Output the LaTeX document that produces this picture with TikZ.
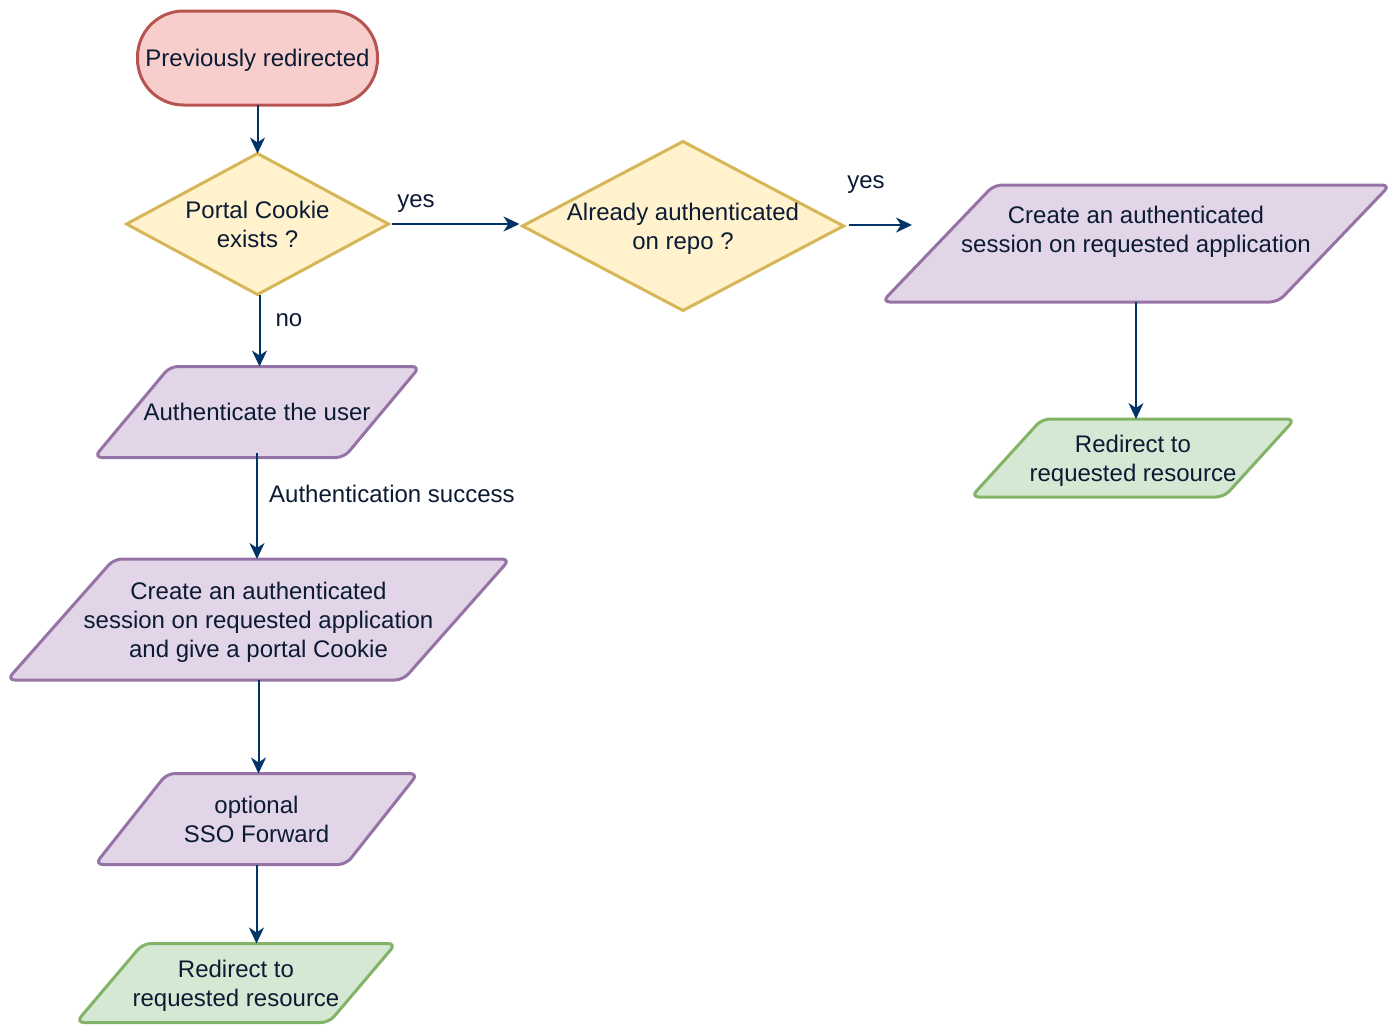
\documentclass[tikz,border=0pt]{standalone}
\usepackage{fontspec}
\setmainfont{Liberation Sans}
\usetikzlibrary{arrows.meta,backgrounds}

\definecolor{inkblue}{HTML}{0B1B33}
\definecolor{edgeblue}{HTML}{003366}
\definecolor{redfill}{HTML}{F8CECC}
\definecolor{redline}{HTML}{B85450}
\definecolor{yellowfill}{HTML}{FFF2CC}
\definecolor{yellowline}{HTML}{D6B656}
\definecolor{purplefill}{HTML}{E1D5E7}
\definecolor{purpleline}{HTML}{9673A6}
\definecolor{greenfill}{HTML}{D5E8D4}
\definecolor{greenline}{HTML}{82B366}

\tikzset{
  % invisible frame that carries the text and the anchors of each block
  frame/.style 2 args={draw=none, inner sep=0pt, outer sep=0pt,
    minimum width=#1, minimum height=#2, align=center, text=inkblue,
    text depth=0pt, font=\fontsize{24}{29}\selectfont},
  startshape/.style={fill=redfill, draw=redline, line width=3pt},
  decision/.style={fill=yellowfill, draw=yellowline, line width=3pt, line join=miter},
  process/.style={fill=purplefill, draw=purpleline, line width=3pt, rounded corners=8pt},
  finish/.style={fill=greenfill, draw=greenline, line width=3pt, rounded corners=8pt},
  flow/.style={draw=edgeblue, line width=2pt,
    -{Stealth[length=16pt, width=15pt, inset=5pt]}},
  edgelabel/.style={text=inkblue, inner sep=0pt, text depth=0pt,
    font=\fontsize{24}{29}\selectfont},
}

% parallelogram drawn along the frame of a node, top edge shifted right by #2
\newcommand{\slanted}[3]{%
  \path[#3] ([xshift=#2]#1.north west) -- (#1.north east)
    -- ([xshift=-#2]#1.south east) -- (#1.south west) -- cycle;}

\begin{document}
\begin{tikzpicture}[x=1pt, y=-1pt]
  \useasboundingbox (0,0) rectangle (1400,1034);

  % blocks
  \node[frame={240}{94}]  (start)   at (257.5,58)  {Previously redirected};
  \node[frame={262}{141}] (cookie)  at (257.5,224) {Portal Cookie\\exists ?};
  \node[frame={321}{169}] (repo)    at (683,226)   {Already authenticated\\on repo ?};
  \node[frame={508}{117}] (session) at (1136,243.5)
    {Create an authenticated\\session on requested application\\\strut};
  \node[frame={324}{78}]  (doneR)   at (1133,458)  {Redirect to\\requested resource};
  \node[frame={326}{91}]  (auth)    at (257,412)   {Authenticate the user};
  \node[frame={503}{121}] (create)  at (258.5,619.5)
    {Create an authenticated\\session on requested application\\and give a portal Cookie};
  \node[frame={323}{91}]  (sso)     at (256.5,819) {optional\\SSO Forward};
  \node[frame={320}{79}]  (doneL)   at (236,983)   {Redirect to\\requested resource};

  \begin{pgfonlayer}{background}
    \path[startshape, rounded corners=46pt] (start.south west) rectangle (start.north east);
    \path[decision] (cookie.west) -- (cookie.north) -- (cookie.east) -- (cookie.south) -- cycle;
    \path[decision] (repo.west) -- (repo.north) -- (repo.east) -- (repo.south) -- cycle;
    \slanted{session}{112pt}{process}
    \slanted{doneR}{71pt}{finish}
    \slanted{auth}{76pt}{process}
    \slanted{create}{107pt}{process}
    \slanted{sso}{72pt}{process}
    \slanted{doneL}{67pt}{finish}
  \end{pgfonlayer}

  % loose end of the second "yes" branch
  \coordinate (yesend) at (912,225);

  % connectors
  \draw[flow] (start.south) -- (cookie.north);
  \draw[flow] ([xshift=3pt]cookie.east) -- ([xshift=-3pt]repo.west |- cookie.east);
  \draw[flow] ([xshift=5pt]repo.east |- yesend) -- (yesend);
  \draw[flow] ([xshift=2pt]cookie.south) -- ([xshift=2pt]cookie.south |- auth.north);
  \draw[flow] ([yshift=5pt]auth.south) -- (auth.south |- create.north);
  \draw[flow] (create.south) -- (create.south |- sso.north);
  \draw[flow] (sso.south) -- (sso.south |- doneL.north);
  \draw[flow] (session.south) -- (session.south |- doneR.north);

  % branch labels
  \node[edgelabel] (yes1) at (416,201) {yes};
  \node[edgelabel] (yes2) at (866,182) {yes};
  \node[edgelabel] (no1)  at (289,320) {no};
  \node[edgelabel, anchor=west] (okay) at (269,494) {Authentication success};
\end{tikzpicture}
\end{document}
